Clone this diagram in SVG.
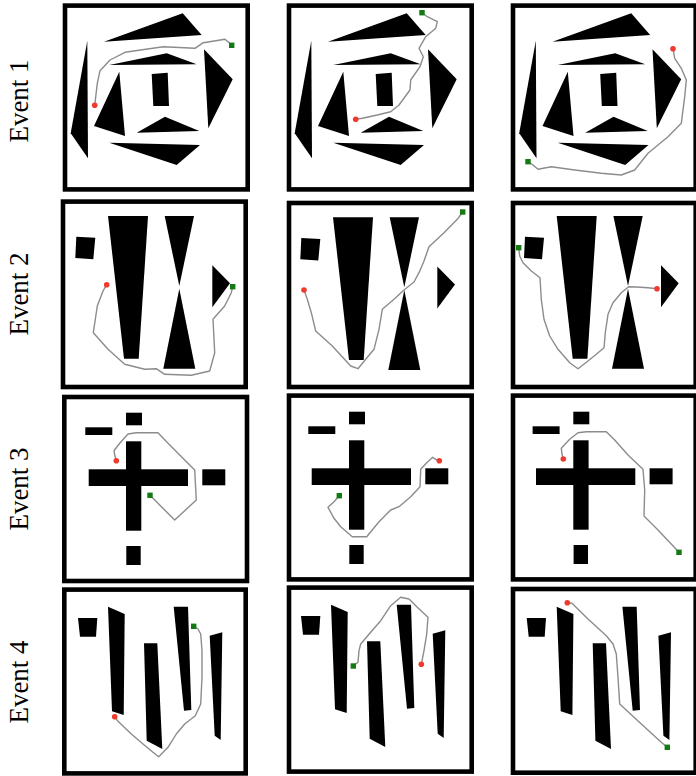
<svg xmlns="http://www.w3.org/2000/svg" xmlns:xlink="http://www.w3.org/1999/xlink" width="696" height="776" viewBox="0 0 696 776">
<style>
.frame{fill:#fff;stroke:#000;stroke-width:4.6}
.obs{fill:#000}
.traj{fill:none;stroke:#8c8c8c;stroke-width:1.4;stroke-linejoin:round;stroke-linecap:round}
.start{fill:#f03a2e}
.goal{fill:#137a13}
.lbl{font-family:"Liberation Serif","Times New Roman",serif;font-size:27px;fill:#000;text-anchor:middle}
</style>
<defs>
<g id="ev1" class="obs">
<polygon points="104,41.7 182.7,13.3 201.7,35"/>
<polygon points="87.3,40.7 70.7,133.3 88,158.3"/>
<polygon points="109.3,65 166.7,53.3 196.7,64.3"/>
<polygon points="151.7,74 167.7,72.7 169,106 153.3,106"/>
<polygon points="119.3,71.7 94,126 125,136"/>
<polygon points="204,49.3 232.7,79.3 208.3,128.3"/>
<polygon points="136.7,132.7 165,116.7 199.3,131"/>
<polygon points="109.3,142.7 200,145 176.7,165"/>
</g>
<g id="ev2" class="obs">
<polygon points="76.3,236.7 95.3,237.7 93.3,259.3 75.3,258"/>
<polygon points="108,216 148,216 138.7,358.7 124,358.7"/>
<polygon points="164.7,216 194,216 179.3,286"/>
<polygon points="179.3,288.7 163.3,368.7 195.3,368.7"/>
<polygon points="212.3,265.3 230,283.3 212.3,307.3"/>
</g>
<g id="ev3" class="obs">
<rect x="126" y="412.7" width="16" height="12.6"/>
<rect x="85.3" y="427.3" width="27" height="7.7"/>
<rect x="126" y="441.3" width="15.3" height="89.4"/>
<rect x="88.7" y="469.3" width="99.3" height="16.7"/>
<rect x="202.3" y="469.3" width="23" height="16"/>
<rect x="126.3" y="546" width="14.4" height="19"/>
</g>
<g id="ev4" class="obs">
<polygon points="78,618 97.3,618 96,636.7 80,636.7"/>
<polygon points="108,606.7 124.7,614 123.7,715 112,711.3"/>
<polygon points="144,643.3 157.3,643.3 162.3,749 146.7,740.7"/>
<polygon points="173.7,606.7 188,606.7 191.3,710 184,710.7"/>
<polygon points="209.7,635.7 222.3,632.3 220.7,740 214.7,735.7"/>
</g>
</defs>
<rect width="696" height="776" fill="#fff"/>

<g id="labels">
<text class="lbl" transform="translate(28,101) rotate(-90)">Event 1</text>
<text class="lbl" transform="translate(28,294) rotate(-90)">Event 2</text>
<text class="lbl" transform="translate(28,489) rotate(-90)">Event 3</text>
<text class="lbl" transform="translate(28,682) rotate(-90)">Event 4</text>
</g>

<g id="e1c1">
<rect class="frame" x="65" y="5.6" width="182.7" height="183.8"/>
<use xlink:href="#ev1"/>
<polyline class="traj" points="94.7,105.3 97.3,83.3 100,70.7 110,60 125,52.3 163.3,46.7 195,48.3 203.3,42.7 225,39.3 231.7,45"/>
<circle class="start" cx="94.7" cy="105.3" r="2.8"/>
<rect class="goal" x="229" y="42.6" width="5.4" height="5.4"/>
</g>
<g id="e1c2">
<rect class="frame" x="289" y="5.6" width="182.7" height="183.8"/>
<use xlink:href="#ev1" transform="translate(224,0)"/>
<polyline class="traj" points="355.7,119.3 362.3,118.3 377.3,115 390.7,111.7 399,105 410,90 410.7,80 420,66.7 423.3,56.7 419,48.3 425.7,36.7 435.7,28.3 437.3,21.7 427.3,16.7 422,12.7"/>
<circle class="start" cx="355.7" cy="119.3" r="2.8"/>
<rect class="goal" x="419.3" y="10" width="5.4" height="5.4"/>
</g>
<g id="e1c3">
<rect class="frame" x="513" y="5.6" width="182.7" height="183.8"/>
<use xlink:href="#ev1" transform="translate(448.5,0)"/>
<polyline class="traj" points="673,48.7 674.7,58.3 681.3,68.3 686.3,80 684.7,96.7 681.3,123.3 668,136.7 648,153.3 634.7,170 621.3,175 601.3,173.3 574.7,170 551.3,166.7 538,169.3 533,165 528,161.7"/>
<circle class="start" cx="673" cy="48.7" r="2.8"/>
<rect class="goal" x="525.3" y="159" width="5.4" height="5.4"/>
</g>

<g id="e2c1">
<rect class="frame" x="63" y="201.6" width="182.7" height="185.4"/>
<use xlink:href="#ev2"/>
<polyline class="traj" points="106.7,284.7 103,291 97.3,306 93.3,332.7 108,349.3 124.7,364.3 144.7,369.3 156.3,368.7 164.7,374.3 191.3,375.3 209.7,371 214.7,352.7 213,319.3 224.7,306 231.3,292.7 232.7,286.7"/>
<circle class="start" cx="106.7" cy="284.7" r="2.8"/>
<rect class="goal" x="230" y="284" width="5.4" height="5.4"/>
</g>
<g id="e2c2">
<rect class="frame" x="289" y="203" width="182.7" height="184"/>
<use xlink:href="#ev2" transform="translate(225,1.3)"/>
<polyline class="traj" points="304,290 307.3,299.3 311.3,312.7 315.7,331 332.3,346 350.7,366 358,368.7 365.7,359.3 374,349.3 379,329.3 382.3,309.3 394,299.3 404,290 414,282 419,272.7 424,261 429,246.7 444,232.7 457.3,219.3 462.7,212"/>
<circle class="start" cx="304" cy="290" r="2.8"/>
<rect class="goal" x="460" y="209.3" width="5.4" height="5.4"/>
</g>
<g id="e2c3">
<rect class="frame" x="513" y="203" width="182.7" height="184"/>
<use xlink:href="#ev2" transform="translate(448.7,0)"/>
<polyline class="traj" points="657,288.7 648,287.7 636.3,287 628.7,286.7 621.3,292.7 613,302.7 608,314.3 605.3,332.7 604,347.7 596.3,354.3 588,361 578,368.7 569.7,362.7 558,349.3 549.7,336 544,319.3 541.3,299.3 540,277.7 531.3,271 523,262.7 519.7,256 518.7,247.7"/>
<circle class="start" cx="657" cy="288.7" r="2.8"/>
<rect class="goal" x="516" y="245" width="5.4" height="5.4"/>
</g>

<g id="e3c1">
<rect class="frame" x="64.3" y="397" width="182.7" height="184"/>
<use xlink:href="#ev3"/>
<polyline class="traj" points="116.3,460.7 114.7,455 114,450.7 119.7,443.3 128,434 136.3,432.7 158,432.7 168,443.3 194.7,470 196.3,500 174.7,520 150,495.3"/>
<circle class="start" cx="116.3" cy="460.7" r="2.8"/>
<rect class="goal" x="147.3" y="492.6" width="5.4" height="5.4"/>
</g>
<g id="e3c2">
<rect class="frame" x="289" y="395.6" width="182.7" height="183.8"/>
<use xlink:href="#ev3" transform="translate(223,-1)"/>
<polyline class="traj" points="439.3,460.7 436.7,460 432.7,457.3 426.7,462.7 420.7,469.3 420,486.7 410.7,496.7 399,506.7 390.7,510 379,521.7 366.7,536.7 352.3,536.7 340.7,526.7 334,518.3 328,507.3 334,501.7 339.3,495.7"/>
<circle class="start" cx="439.3" cy="460.7" r="2.8"/>
<rect class="goal" x="336.6" y="493" width="5.4" height="5.4"/>
</g>
<g id="e3c3">
<rect class="frame" x="513" y="395.6" width="182.7" height="183.8"/>
<use xlink:href="#ev3" transform="translate(447.3,-1)"/>
<polyline class="traj" points="563.3,459 562,454 561.3,448.3 569.7,439.3 578,432.7 586.3,431.7 606.3,431.7 614.7,440 628,455 643,469.3 644.7,490 644,516 658,530 679,552.3"/>
<circle class="start" cx="563.3" cy="459" r="2.8"/>
<rect class="goal" x="676.3" y="549.6" width="5.4" height="5.4"/>
</g>

<g id="e4c1">
<rect class="frame" x="64.3" y="589.6" width="181.4" height="183.8"/>
<use xlink:href="#ev4"/>
<polyline class="traj" points="114.7,716.7 118,721.3 131.3,734 143,744 153,752.3 158.7,756.7 168,747.3 176.3,734 184.7,724 195.3,715.7 200.7,704 202,677.3 202,650.7 200.7,634 198,629 193.7,626.3"/>
<circle class="start" cx="114.7" cy="716.7" r="2.8"/>
<rect class="goal" x="191" y="623.6" width="5.4" height="5.4"/>
</g>
<g id="e4c2">
<rect class="frame" x="289" y="587.6" width="182.7" height="184"/>
<use xlink:href="#ev4" transform="translate(223,-2)"/>
<polyline class="traj" points="353.3,666 358,662.3 359,650.7 360.7,644 370.7,632.3 380.7,620.7 390.7,605.7 400.7,597.3 409,599 417.3,607.3 428,617.3 426.7,634 424,650.7 421.3,664.3"/>
<circle class="start" cx="421.3" cy="664.3" r="2.8"/>
<rect class="goal" x="350.6" y="663.3" width="5.4" height="5.4"/>
</g>
<g id="e4c3">
<rect class="frame" x="513" y="589" width="182.7" height="183.7"/>
<use xlink:href="#ev4" transform="translate(448.7,0)"/>
<polyline class="traj" points="567.3,602.7 572,603.3 588,619 606.3,635.7 613,644 616.3,654 618,677.3 619.7,704 641.3,724 661.3,742.3 667.3,747.3"/>
<circle class="start" cx="567.3" cy="602.7" r="2.8"/>
<rect class="goal" x="664.6" y="744.6" width="5.4" height="5.4"/>
</g>
</svg>
